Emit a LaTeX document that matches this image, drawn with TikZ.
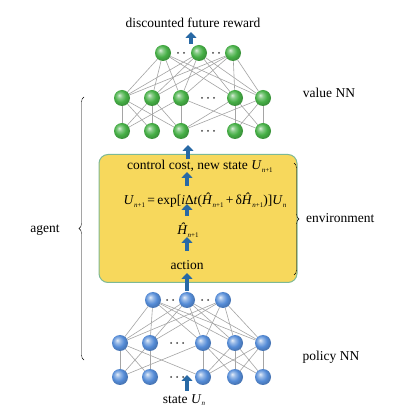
\documentclass[tikz,border=0pt]{standalone}
\usepackage{fontspec}
\setmainfont{Liberation Serif}
\usetikzlibrary{arrows.meta,decorations.pathreplacing,backgrounds}
\definecolor{boxfill}{RGB}{247,216,92}
\definecolor{boxline}{RGB}{125,185,150}
\definecolor{arrowblue}{RGB}{40,105,165}
\definecolor{edgegray}{RGB}{165,165,165}
\definecolor{gball}{RGB}{70,175,70}
\definecolor{bball}{RGB}{85,140,215}
\pgfdeclareradialshading{gballsh}{\pgfqpoint{-9bp}{9bp}}{color(0bp)=(gball!20!white); color(8bp)=(gball!65!white); color(18bp)=(gball); color(26bp)=(gball!85!black); color(50bp)=(gball!70!black)}
\pgfdeclareradialshading{bballsh}{\pgfqpoint{-9bp}{9bp}}{color(0bp)=(bball!15!white); color(8bp)=(bball!60!white); color(18bp)=(bball); color(26bp)=(bball!85!black); color(50bp)=(bball!70!black)}
\newcommand{\sbs}[1]{\raisebox{-0.45ex}{\fontsize{7}{8}\selectfont #1}}
\tikzset{
  gnode/.style={circle,minimum size=16pt,inner sep=0pt,shading=gballsh},
  bnode/.style={circle,minimum size=16pt,inner sep=0pt,shading=bballsh},
  edge/.style={draw=edgegray,line width=0.6pt},
  flow/.style={draw=arrowblue,line width=4pt,-{Triangle[width=11pt,length=6pt]}},
  lbl/.style={font=\fontsize{13.5}{16}\selectfont,inner sep=0pt},
  dotc/.style={fill=black!75,draw=none},
}
\begin{document}
\begin{tikzpicture}[x=1pt,y=1pt]
\useasboundingbox (0,0) rectangle (413,415);
% value network (green)
\node[gnode] (g1) at (163,362) {};
\node[gnode] (g2) at (199,362) {};
\node[gnode] (g3) at (233,362) {};
\node[gnode] (gm1) at (122,317) {};
\node[gnode] (gm2) at (152,317) {};
\node[gnode] (gm3) at (181,317) {};
\node[gnode] (gm4) at (235,317) {};
\node[gnode] (gm5) at (263,317) {};
\node[gnode] (gb1) at (122,284) {};
\node[gnode] (gb2) at (152,284) {};
\node[gnode] (gb3) at (181,284) {};
\node[gnode] (gb4) at (235,284) {};
\node[gnode] (gb5) at (263,284) {};
% policy network (blue)
\node[bnode] (b1) at (153,115) {};
\node[bnode] (b2) at (187,115) {};
\node[bnode] (b3) at (223,115) {};
\node[bnode] (bm1) at (120,72) {};
\node[bnode] (bm2) at (150,72) {};
\node[bnode] (bm3) at (203,72) {};
\node[bnode] (bm4) at (235,72) {};
\node[bnode] (bm5) at (263,72) {};
\node[bnode] (bb1) at (120,38) {};
\node[bnode] (bb2) at (150,38) {};
\node[bnode] (bb3) at (203,38) {};
\node[bnode] (bb4) at (235,38) {};
\node[bnode] (bb5) at (263,38) {};
\begin{scope}[on background layer]
\fill[white] (0,0) rectangle (413,415);
\foreach \t in {g1,g2,g3}{\foreach \m in {gm1,gm2,gm3,gm4,gm5}{\path[edge] (\t) -- (\m);}}
\foreach \a/\b in {gm1/gb1,gm1/gb2,gm1/gb3,gm2/gb1,gm2/gb2,gm2/gb3,gm3/gb1,gm3/gb3,gm3/gb5,gm4/gb3,gm4/gb4,gm4/gb5,gm5/gb3,gm5/gb4,gm5/gb5}{\path[edge] (\a) -- (\b);}
\foreach \t in {b1,b2,b3}{\foreach \m in {bm1,bm2,bm3,bm4,bm5}{\path[edge] (\t) -- (\m);}}
\foreach \a/\b in {bm1/bb1,bm1/bb2,bm1/bb3,bm2/bb1,bm2/bb2,bm3/bb1,bm3/bb3,bm3/bb4,bm3/bb5,bm4/bb3,bm4/bb4,bm4/bb5,bm5/bb3,bm5/bb4,bm5/bb5}{\path[edge] (\a) -- (\b);}
\end{scope}
% dots
\foreach \x/\y in {178/362,184/362,213/362,219/362, 202/317,208/317,214/317, 202/284,208/284,214/284,
                   167/115,173/115,202/115,208/115, 171/72,177/72,183/72, 171/38,177/38,183/38}
  {\fill[dotc] (\x,\y) circle (1pt);}
% environment box
\node[draw=boxline,fill=boxfill,line width=1pt,rounded corners=9pt,minimum width=198pt,minimum height=128pt,inner sep=0pt] (box) at (198,196.5) {};
\node[lbl,anchor=west] (cc) at (127,249) {control cost, new state \textit{U}\sbs{\textit{n}+1}};
\node[lbl] (eq) at (205,215) {\textit{U}\sbs{\textit{n}+1}\,=\,exp[\textit{i}Δ\textit{t}(\textit{Ĥ}\sbs{\textit{n}+1}\,+\,δ\textit{Ĥ}\sbs{\textit{n}+1})]\textit{U}\sbs{\textit{n}}};
\node[lbl] (hh) at (188,185) {\textit{Ĥ}\sbs{\textit{n}+1}};
\node[lbl] (act) at (187,150) {action};
% texts outside
\node[lbl] (rew) at (193,392) {discounted future reward};
\node[lbl] (st) at (184,15) {state \textit{U}\sbs{\textit{n}}};
\node[lbl] (vnn) at (329,322) {value NN};
\node[lbl] (pnn) at (331,58) {policy NN};
\node[lbl,anchor=west] (env) at (306,197) {environment};
\node[lbl] (ag) at (45,185) {agent};
% flow arrows
\coordinate (s0) at (187,24);  \coordinate (e0) at (187,40);
\coordinate (s1) at (187,124); \coordinate (e1) at (187,142);
\coordinate (s2) at (187,164); \coordinate (e2) at (187,178);
\coordinate (s3) at (187,199); \coordinate (e3) at (187,211);
\coordinate (s4) at (187,229); \coordinate (e4) at (187,243);
\coordinate (s5) at (188,256); \coordinate (e5) at (188,270);
\coordinate (s6) at (191,371); \coordinate (e6) at (191,383);
\foreach \i in {0,...,6}{\draw[flow] (s\i) -- (e\i);}
% braces
\draw[decorate,decoration={brace,amplitude=5pt}] (84,55) -- (84,318);
\draw[decorate,decoration={brace,amplitude=5pt}] (294,252) -- (294,140);
\end{tikzpicture}
\end{document}
